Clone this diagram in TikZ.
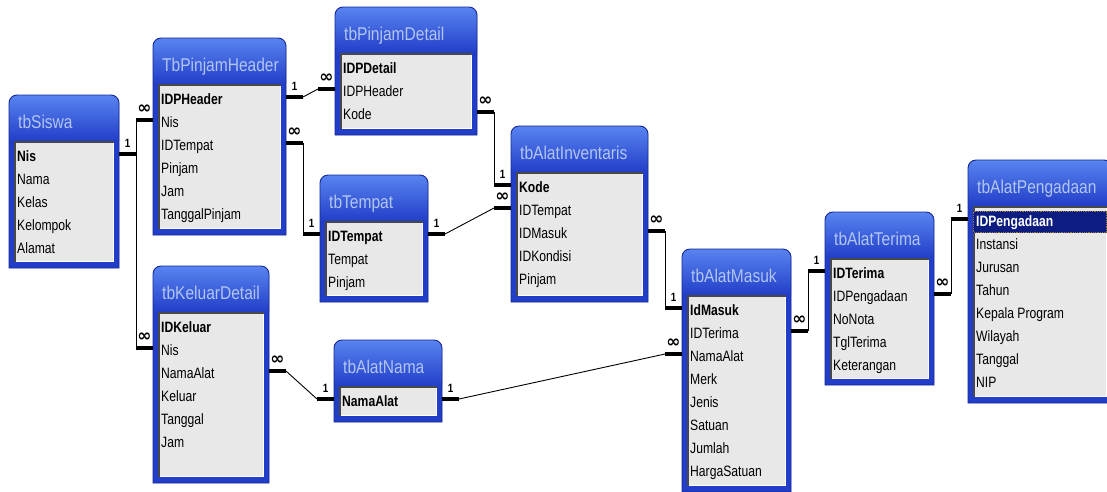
\documentclass[tikz,border=0pt]{standalone}
\usepackage{fontspec}
\setmainfont{Liberation Sans}[FakeStretch=0.81]
\newfontfamily\titlefont{Liberation Sans}[FakeStretch=0.84]
\newfontfamily\symfont{DejaVu Sans}

\definecolor{framebody}{RGB}{34,62,200}
\definecolor{frametop}{RGB}{88,132,240}
\definecolor{frameline}{RGB}{22,40,150}
\definecolor{titletext}{RGB}{178,198,240}
\definecolor{listbg}{RGB}{232,232,232}
\definecolor{listdark}{RGB}{72,72,72}
\definecolor{selrow}{RGB}{12,28,128}
\definecolor{seldots}{RGB}{150,120,60}

\newcommand\infmark{{\symfont\bfseries\fontsize{17}{17}\selectfont ∞}}

% one table window: name, left, top, right, bottom, caption
\newcommand\dbtable[6]{%
  \node[tabbox, minimum width={(#4)-(#2)}, minimum height={(#5)-(#3)},
        anchor=north west] (#1) at (#2,#3) {};
  \fill[framebody] (#1.south west) -- ([yshift=-8pt]#1.north west)
     arc[start angle=180,end angle=90,radius=8pt] -- ([xshift=-8pt]#1.north east)
     arc[start angle=90,end angle=0,radius=8pt] -- (#1.south east) -- cycle;
  \shade[top color=frametop, bottom color=framebody]
     ([yshift=-46pt]#1.north west) -- ([yshift=-8pt]#1.north west)
     arc[start angle=180,end angle=90,radius=8pt] -- ([xshift=-8pt]#1.north east)
     arc[start angle=90,end angle=0,radius=8pt] -- ([yshift=-46pt]#1.north east) -- cycle;
  \draw[frameline, line width=0.9pt] (#1.south west) -- ([yshift=-8pt]#1.north west)
     arc[start angle=180,end angle=90,radius=8pt] -- ([xshift=-8pt]#1.north east)
     arc[start angle=90,end angle=0,radius=8pt] -- (#1.south east) -- cycle;
  \fill[listbg] ([shift={(5pt,-46pt)}]#1.north west) rectangle ([shift={(-5pt,6pt)}]#1.south east);
  \draw[white, line width=1pt] ([shift={(5.5pt,6.5pt)}]#1.south west) -- ([shift={(-5.5pt,6.5pt)}]#1.south east)
     -- ([shift={(-5.5pt,-46pt)}]#1.north east);
  \draw[listdark, line width=1.6pt] ([shift={(5.8pt,6pt)}]#1.south west) -- ([shift={(5.8pt,-46.8pt)}]#1.north west)
     -- ([shift={(-5pt,-46.8pt)}]#1.north east);
  \node[tabtitle] (#1-title) at ({#2+9},{#3+33}) {#6};
}

% field list of a table: [key colour] name, left, top, fields
\newcommand\dbrows[5][black]{%
  \foreach \f [count=\i from 0] in {#5} {%
    \ifnum\i=0
      \node[keyfield, text=#1] (#2-\i) at ({#3+8},{#4+59}) {\f};
    \else
      \node[field] (#2-\i) at ({#3+8},{#4+59+23*\i}) {\f};
    \fi
  }%
}

\begin{document}
\begin{tikzpicture}[x=1pt, y=-1pt,
  tabbox/.style={rectangle, inner sep=0pt, outer sep=0pt, draw=none},
  tabtitle/.style={anchor=base west, inner sep=0pt, text=titletext,
    font=\titlefont\fontsize{18.5}{18.5}\selectfont},
  field/.style={anchor=west, inner xsep=0pt, inner ysep=0pt, text height=15.5pt,
    text depth=0pt, font=\fontsize{15}{15}\selectfont},
  keyfield/.style={field, font=\bfseries\fontsize{15}{15}\selectfont},
  stub/.style={line width=3.4pt, black},
  link/.style={line width=0.9pt, black},
  card/.style={inner sep=0pt, above=5pt, font=\bfseries\fontsize{12}{12}\selectfont}]

\useasboundingbox (0,0) rectangle (1107,491);
\clip (0,0) rectangle (1107,491);
\fill[white] (0,0) rectangle (1107,491);

% tables
\dbtable{siswa}{9}{95}{119}{268}{tbSiswa}
\dbrows{siswa}{9}{95}{Nis,Nama,Kelas,Kelompok,Alamat}

\dbtable{hdr}{153}{38}{286}{235}{TbPinjamHeader}
\dbrows{hdr}{153}{38}{IDPHeader,Nis,IDTempat,Pinjam,Jam,TanggalPinjam}

\dbtable{pdet}{335}{7}{477}{135}{tbPinjamDetail}
\dbrows{pdet}{335}{7}{IDPDetail,IDPHeader,Kode}

\dbtable{tempat}{320}{175}{428}{302}{tbTempat}
\dbrows{tempat}{320}{175}{IDTempat,Tempat,Pinjam}

\dbtable{inv}{511}{126}{648}{302}{tbAlatInventaris}
\dbrows{inv}{511}{126}{Kode,IDTempat,IDMasuk,IDKondisi,Pinjam}

\dbtable{keluar}{153}{266}{269}{483}{tbKeluarDetail}
\dbrows{keluar}{153}{266}{IDKeluar,Nis,NamaAlat,Keluar,Tanggal,Jam}

\dbtable{nama}{334}{340}{442}{422}{tbAlatNama}
\dbrows{nama}{334}{340}{NamaAlat}

\dbtable{masuk}{682}{249}{791}{492}{tbAlatMasuk}
\dbrows{masuk}{682}{249}{IdMasuk,IDTerima,NamaAlat,Merk,Jenis,Satuan,Jumlah,HargaSatuan}

\dbtable{terima}{825}{212}{934}{385}{tbAlatTerima}
\dbrows{terima}{825}{212}{IDTerima,IDPengadaan,NoNota,TglTerima,Keterangan}

\dbtable{peng}{968}{160}{1112}{403}{tbAlatPengadaan}
\fill[selrow] (973,211) rectangle (1107,233);
\draw[seldots, densely dotted, line width=0.8pt] (973.5,211.5) rectangle (1106.5,232.5);
\dbrows[white]{peng}{968}{160}{IDPengadaan,Instansi,Jurusan,Tahun,Kepala Program,Wilayah,Tanggal,NIP}

% relationships
\draw[stub] (siswa.east |- siswa-0) -- node[card]{1} ++(17,0) coordinate (r1a);
\draw[stub] (hdr.west |- hdr-1) -- node[card]{\infmark} ++(-17,0) coordinate (r1b);
\draw[stub] (keluar.west |- keluar-1) -- node[card]{\infmark} ++(-17,0) coordinate (r1c);
\draw[link] (r1b) -- (r1c);

\draw[stub] (hdr.east |- hdr-0) -- node[card]{1} ++(17,0) coordinate (r2a);
\draw[stub] (pdet.west |- pdet-1) -- node[card]{\infmark} ++(-17,0) coordinate (r2b);
\draw[link] (r2a) -- (r2b);

\draw[stub] (hdr.east |- hdr-2) -- node[card]{\infmark} ++(17,0) coordinate (r3a);
\draw[stub] (tempat.west |- tempat-0) -- node[card]{1} ++(-17,0) coordinate (r3b);
\draw[link] (r3a) -- (r3b);

\draw[stub] (pdet.east |- pdet-2) -- node[card]{\infmark} ++(17,0) coordinate (r4a);
\draw[stub] (inv.west |- inv-0) -- node[card]{1} ++(-17,0) coordinate (r4b);
\draw[link] (r4a) -- (r4b);

\draw[stub] (tempat.east |- tempat-0) -- node[card]{1} ++(17,0) coordinate (r5a);
\draw[stub] (inv.west |- inv-1) -- node[card]{\infmark} ++(-17,0) coordinate (r5b);
\draw[link] (r5a) -- (r5b);

\draw[stub] (inv.east |- inv-2) -- node[card]{\infmark} ++(17,0) coordinate (r6a);
\draw[stub] (masuk.west |- masuk-0) -- node[card]{1} ++(-17,0) coordinate (r6b);
\draw[link] (r6a) -- (r6b);

\draw[stub] (masuk.east |- masuk-1) -- node[card]{\infmark} ++(17,0) coordinate (r7a);
\draw[stub] (terima.west |- terima-0) -- node[card]{1} ++(-17,0) coordinate (r7b);
\draw[link] (r7a) -- (r7b);

\draw[stub] (terima.east |- terima-1) -- node[card]{\infmark} ++(17,0) coordinate (r8a);
\draw[stub] (peng.west |- peng-0) -- node[card]{1} ++(-17,0) coordinate (r8b);
\draw[link] (r8a) -- (r8b);

\draw[stub] (keluar.east |- keluar-2) -- node[card]{\infmark} ++(17,0) coordinate (r9a);
\draw[stub] (nama.west |- nama-0) -- node[card]{1} ++(-17,0) coordinate (r9b);
\draw[link] (r9a) -- (r9b);

\draw[stub] (nama.east |- nama-0) -- node[card]{1} ++(17,0) coordinate (r10a);
\draw[stub] (masuk.west |- masuk-2) -- node[card]{\infmark} ++(-17,0) coordinate (r10b);
\draw[link] (r10a) -- (r10b);

\end{tikzpicture}
\end{document}
